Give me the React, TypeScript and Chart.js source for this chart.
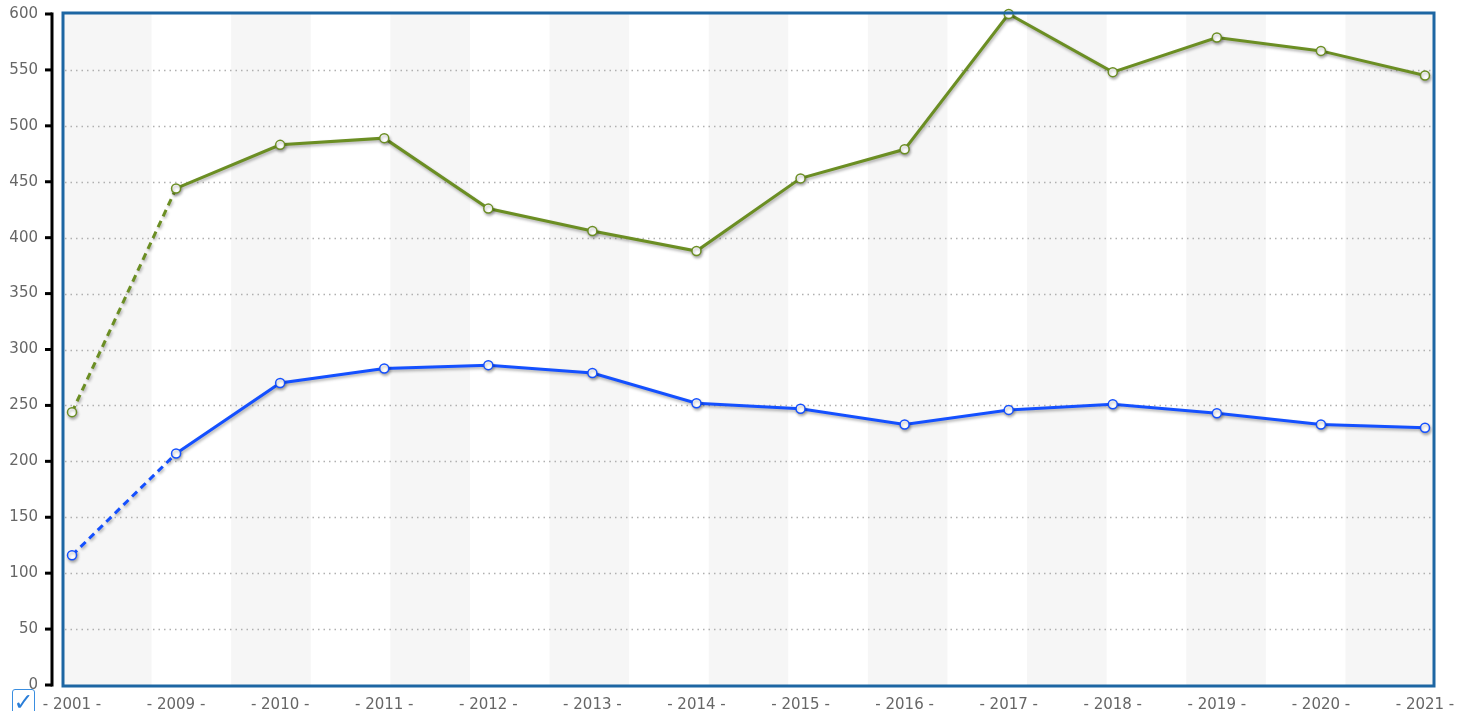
import React, { useEffect, useRef } from "react";
import { Chart, registerables } from "chart.js";

Chart.register(...registerables);

const years = ["2001", "2009", "2010", "2011", "2012", "2013", "2014", "2015", "2016", "2017", "2018", "2019", "2020", "2021"];
const greenSeries = [244, 444, 483, 489, 426, 406, 388, 453, 479, 600, 548, 579, 567, 545];
const blueSeries = [116, 207, 270, 283, 286, 279, 252, 247, 233, 246, 251, 243, 233, 230];
const yMin = 0;
const yMax = 600;
const yStep = 50;

const GREEN = "#6b8e23";
const BLUE = "#1450ff";
const BORDER_BLUE = "#1d66a3";
const STRIPE = "#f6f6f6";
const TEXT = "#666666";
const FONT = "'DejaVu Sans', Verdana, sans-serif";

const decorPlugin = {
  id: "decor",
  beforeDatasetsDraw(chart: any) {
    const { ctx, chartArea } = chart;
    const x = chart.scales.x;
    const y = chart.scales.y;
    const ext = 9;
    const first = x.getPixelForValue(0);
    const last = x.getPixelForValue(years.length - 1);
    const n = 17;
    const w = (last - first) / n;
    const top = chartArea.top - 1;
    const bottom = chartArea.bottom + 1;
    ctx.save();
    ctx.fillStyle = STRIPE;
    for (let i = 0; i < n; i += 2) {
      let l = first + i * w;
      let r = l + w;
      if (i === 0) l = chartArea.left - ext;
      if (i === n - 1) r = chartArea.right + ext;
      ctx.fillRect(l, top, r - l, bottom - top);
    }
    ctx.strokeStyle = "#b0b0b0";
    ctx.lineWidth = 1.5;
    ctx.setLineDash([1.5, 4]);
    for (let v = yMin + yStep; v < yMax; v += yStep) {
      const py = Math.round(y.getPixelForValue(v)) + 0.5;
      ctx.beginPath();
      ctx.moveTo(chartArea.left - ext + 2, py);
      ctx.lineTo(chartArea.right + ext - 2, py);
      ctx.stroke();
    }
    ctx.restore();
  },
  beforeDatasetDraw(chart: any) {
    const ctx = chart.ctx;
    ctx.save();
    ctx.shadowColor = "rgba(0,0,0,0.3)";
    ctx.shadowBlur = 3;
    ctx.shadowOffsetX = 1;
    ctx.shadowOffsetY = 2;
  },
  afterDatasetDraw(chart: any) {
    chart.ctx.restore();
  },
  afterDatasetsDraw(chart: any) {
    const { ctx, chartArea } = chart;
    const y = chart.scales.y;
    const ext = 9;
    ctx.save();
    ctx.strokeStyle = BORDER_BLUE;
    ctx.lineWidth = 3;
    ctx.strokeRect(chartArea.left - ext, chartArea.top - 1, chartArea.right - chartArea.left + 2 * ext, chartArea.bottom - chartArea.top + 2);
    const ax = chartArea.left - 20;
    ctx.strokeStyle = "#000";
    ctx.lineWidth = 3;
    ctx.beginPath();
    ctx.moveTo(ax, y.getPixelForValue(yMax) - 1.5);
    ctx.lineTo(ax, y.getPixelForValue(yMin) + 1.5);
    ctx.stroke();
    for (let v = yMin; v <= yMax; v += yStep) {
      const py = y.getPixelForValue(v);
      ctx.beginPath();
      ctx.moveTo(ax - 7, py);
      ctx.lineTo(ax, py);
      ctx.stroke();
    }
    ctx.restore();
  },
};

export default function App() {
  const canvasRef = useRef<HTMLCanvasElement | null>(null);

  useEffect(() => {
    if (!canvasRef.current) return;
    const dashFirst = (c: any) => (c.p0DataIndex === 0 ? [7, 5] : undefined);
    const mk = (label: string, data: number[], color: string) =>
      ({
        label,
        data,
        borderColor: color,
        backgroundColor: "#ffffff",
        borderWidth: 3,
        pointRadius: 4.5,
        pointHoverRadius: 4.5,
        pointBorderWidth: 1.5,
        pointBorderColor: color,
        pointBackgroundColor: "#ffffff",
        tension: 0,
        clip: false,
        segment: { borderDash: dashFirst },
      } as any);
    const chart = new Chart(canvasRef.current, {
      type: "line",
      data: {
        labels: years,
        datasets: [mk("green", greenSeries, GREEN), mk("blue", blueSeries, BLUE)],
      },
      options: {
        animation: false,
        responsive: false,
        maintainAspectRatio: false,
        layout: { autoPadding: false, padding: { top: 14, right: 32, bottom: 0, left: 0 } },
        plugins: {
          legend: { display: false },
          tooltip: { enabled: false },
          title: { display: false },
        },
        scales: {
          x: {
            type: "category",
            offset: false,
            grid: { display: true, drawOnChartArea: false, drawTicks: true, tickLength: 11, color: "rgba(0,0,0,0)" },
            border: { display: false },
            ticks: {
              color: TEXT,
              font: { family: FONT, size: 15 },
              padding: 0,
              maxRotation: 0,
              autoSkip: false,
              callback: function (this: any, value: any) {
                return "- " + this.getLabelForValue(value) + " -";
              },
            },
            afterFit: (s: any) => {
              s.height = 26;
            },
          },
          y: {
            min: yMin,
            max: yMax,
            grid: { display: true, drawOnChartArea: false, drawTicks: true, tickLength: 34, color: "rgba(0,0,0,0)" },
            border: { display: false },
            ticks: {
              stepSize: yStep,
              color: TEXT,
              font: { family: FONT, size: 15 },
              padding: 0,
            },
            afterFit: (s: any) => {
              s.width = 72;
            },
          },
        },
      },
      plugins: [decorPlugin],
    });
    return () => chart.destroy();
  }, []);

  return (
    <div style={{ position: "fixed", left: 0, top: 0, width: 1457, height: 711, background: "#fff", overflow: "hidden" }}>
      <canvas ref={canvasRef} width={1457} height={711} style={{ display: "block", width: 1457, height: 711 }} />
      <div
        style={{
          position: "absolute",
          left: 12,
          top: 689,
          width: 23,
          height: 26,
          border: "1.5px solid #3a8ee0",
          borderRadius: 3,
          color: "#2a7ed8",
          fontFamily: FONT,
          fontSize: 24,
          lineHeight: "24px",
          textAlign: "center",
          boxSizing: "border-box",
          background: "#fff",
        }}
      >
        ✓
      </div>
    </div>
  );
}
